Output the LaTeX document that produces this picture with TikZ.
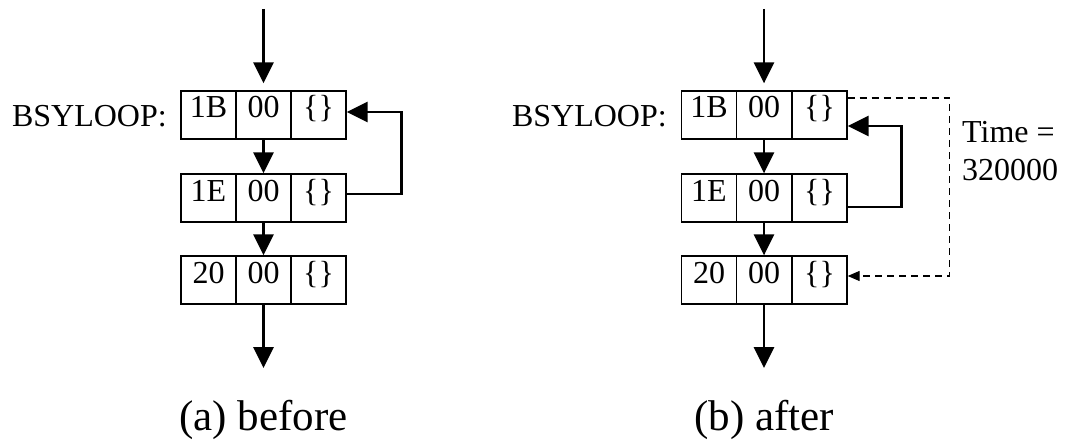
\documentclass[tikz,border=0pt]{standalone}
\usepackage{fontspec}
\setmainfont{Liberation Serif}
\usetikzlibrary{arrows.meta}
\tikzset{
  cell/.style={draw, line width=1.3pt, minimum width=55pt, minimum height=48pt, inner sep=0pt,
    text height=22pt, text depth=16pt, font=\fontsize{32pt}{38pt}\selectfont},
  lbl/.style={inner sep=0pt, font=\fontsize{32pt}{38pt}\selectfont},
  captext/.style={inner sep=0pt, font=\fontsize{43pt}{50pt}\selectfont},
  flow/.style={line width=2.8pt, -{Triangle[length=21pt,width=20pt]}},
  timed/.style={line width=1.2pt, dash pattern=on 7pt off 5pt, -{Triangle[length=12pt,width=10pt]}}
}
\begin{document}
\begin{tikzpicture}[x=1pt,y=-1pt]
\useasboundingbox (0,0) rectangle (1065,441);
% (a) before
\node[cell] (a1a) at (208.5,115) {1B};
\node[cell] (a1b) at (263.5,115) {00};
\node[cell] (a1c) at (318.5,115) {\{\}};
\node[cell] (a2a) at (208.5,198) {1E};
\node[cell] (a2b) at (263.5,198) {00};
\node[cell] (a2c) at (318.5,198) {\{\}};
\node[cell] (a3a) at (208.5,280) {20};
\node[cell] (a3b) at (263.5,280) {00};
\node[cell] (a3c) at (318.5,280) {\{\}};
\node[lbl, anchor=base east] (alab) at (167,127) {BSYLOOP:};
\coordinate (ain) at (263.5,9);
\coordinate (aout) at (263.5,368);
\draw[flow, shorten >=7pt] (ain) -- (a1b.north);
\draw[flow] (a1b.south) -- (a2b.north);
\draw[flow] (a2b.south) -- (a3b.north);
\draw[flow] (a3b.south) -- (aout);
\draw[flow] ([yshift=4pt]a2c.east) -- ++(55,0) |- ([yshift=3pt]a1c.east);
\node[captext, anchor=base] (acap) at (263.5,430) {(a) before};
% (b) after
\node[cell] (b1a) at (709,115) {1B};
\node[cell] (b1b) at (764,115) {00};
\node[cell] (b1c) at (819.5,115) {\{\}};
\node[cell] (b2a) at (709,198) {1E};
\node[cell] (b2b) at (764,198) {00};
\node[cell] (b2c) at (819.5,198) {\{\}};
\node[cell] (b3a) at (709,280) {20};
\node[cell] (b3b) at (764,280) {00};
\node[cell] (b3c) at (819.5,280) {\{\}};
\node[lbl, anchor=base east] (blab) at (667,127) {BSYLOOP:};
\coordinate (bin) at (764,9);
\coordinate (bout) at (764,368);
\draw[flow, shorten >=7pt] (bin) -- (b1b.north);
\draw[flow] (b1b.south) -- (b2b.north);
\draw[flow] (b2b.south) -- (b3b.north);
\draw[flow] (b3b.south) -- (bout);
\draw[flow] ([yshift=-9pt]b2c.east) -- ++(54,0) |- ([yshift=-11pt]b1c.east);
\draw[timed] ([yshift=17pt]b1c.east) -- ++(102,0) |- ([yshift=4pt]b3c.east);
\node[lbl, anchor=base west, align=left] (time) at (962,180) {Time =\\320000};
\node[captext, anchor=base] (bcap) at (764,430) {(b) after};
\end{tikzpicture}
\end{document}
